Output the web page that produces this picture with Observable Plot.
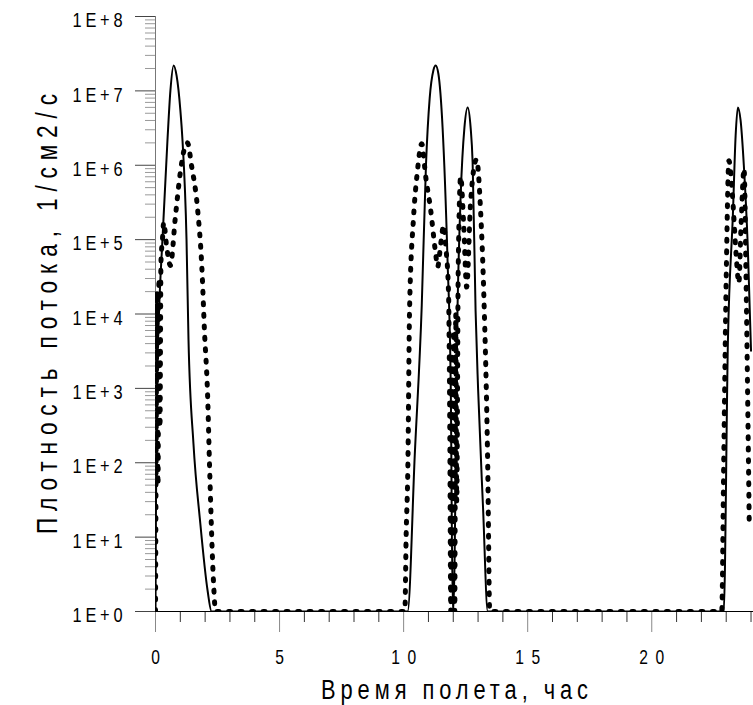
<!DOCTYPE html>
<html>
<head>
<meta charset="utf-8">
<script src="https://cdn.jsdelivr.net/npm/d3@7"></script>
<script src="https://cdn.jsdelivr.net/npm/@observablehq/plot@0.6"></script>
<style>
  html, body { margin: 0; padding: 0; background: #fff; }
  svg text { font-family: "Liberation Sans", Arial, sans-serif; }
</style>
</head>
<body>
<div id="chart"></div>
<script>
// Solid curve (time in hours, flux 1/cm2/s)
const solidTime = [0, 0.02, 0.06, 0.14, 0.28, 0.48, 0.6, 0.73, 0.85, 1.0, 1.09, 1.25, 1.33, 1.53, 1.8, 2.1, 2.26,
  10.16, 10.45, 10.73, 10.9, 11.05, 11.2, 11.29, 11.4, 11.57, 11.77, 11.9, 11.98,
  12.0, 12.18, 12.3, 12.45, 12.58, 12.7, 12.78, 12.9, 13.0, 13.2, 13.39,
  22.9, 23.07, 23.27, 23.38, 23.47, 23.58, 23.71, 23.87, 24.0];
const solidFlux = [1, 3e1, 1e3, 1e4, 1e5, 2.1e6, 1e7, 2.2e7, 1.6e7, 5.6e6, 2.1e6, 1e5, 4.5e3, 1.8e2, 1.6e1, 1.9, 1,
  1, 1.3e2, 1.3e4, 1e6, 8e6, 1.9e7, 2.2e7, 1.7e7, 3.2e6, 5.2e4, 1e3, 1,
  1, 1.6e4, 4e5, 3.2e6, 6e6, 3.2e6, 1.1e6, 1.1e4, 1e3, 2.5e1, 1,
  1, 4.5e3, 2.2e5, 2.5e6, 6e6, 4e6, 1e6, 8e4, 3.2e3];

// Dotted curve
const dottedTime = [0, 0.03, 0.06, 0.1, 0.14, 0.18, 0.22, 0.28, 0.33, 0.45, 0.6, 0.8, 1.0, 1.15, 1.29, 1.45, 1.69, 1.88, 1.97, 2.1, 2.18, 2.34, 2.42,
  10.05, 10.1, 10.17, 10.24, 10.4, 10.55, 10.73, 10.89, 11.09, 11.29, 11.37, 11.5, 11.61, 11.7, 11.81, 11.86, 11.9, 11.94, 11.98, 12.02, 12.06, 12.1, 12.14, 12.2,
  12.3, 12.42, 12.54, 12.7, 12.94, 13.1, 13.23, 13.39, 13.47,
  22.82, 22.9, 23.0, 23.11, 23.25, 23.4, 23.51, 23.6, 23.72, 23.8, 23.88, 23.93];
const dottedFlux = [1, 3e2, 2e4, 5e1, 3e4, 3e2, 5e4, 1e5, 1.7e5, 8e4, 4.5e4, 2e5, 8e5, 1.6e6, 2e6, 1e6, 2.7e5, 3.5e4, 6.3e3, 8e2, 8.7e1, 2.4, 1,
  1, 1e1, 8.7e1, 1.2e4, 2e5, 8e5, 1.95e6, 7e5, 2.5e5, 6.5e4, 4.3e4, 9e4, 1.55e5, 8e4, 1.9e4, 3e2, 1, 3e3, 1e1, 6e3, 1, 1e4, 3e1, 4e4,
  7e5, 1.6e5, 2.3e4, 3.2e5, 1.2e6, 2.5e5, 1.9e4, 8.7e1, 1,
  1, 1e2, 3e4, 1.15e6, 4e5, 6.3e4, 2.6e4, 1.6e5, 9e5, 3e4, 3e2, 1.35e1];

const xMajorTicks = [0, 5, 10, 15, 20];
const xMinorTicks = [1, 2, 3, 4, 6, 7, 8, 9, 11, 12, 13, 14, 16, 17, 18, 19, 21, 22, 23, 24];
const yMajorTicks = [1, 1e1, 1e2, 1e3, 1e4, 1e5, 1e6, 1e7, 1e8];
const yTickLabels = ["1E+0", "1E+1", "1E+2", "1E+3", "1E+4", "1E+5", "1E+6", "1E+7", "1E+8"];
const yMinorTicks = [];
for (let e = 0; e < 8; e++) for (let m = 2; m <= 9; m++) yMinorTicks.push(m * Math.pow(10, e));

const xTitle = "Время полета, час";
const yTitle = "Плотность потока, 1/см2/с";

const solid = solidTime.map((t, i) => ({t, v: solidFlux[i]}));
const dotted = dottedTime.map((t, i) => ({t, v: dottedFlux[i]}));

const W = 753, H = 705, ML = 155, MR = 0, MT = 16, MB = 94;

const chart = Plot.plot({
  width: W,
  height: H,
  marginLeft: ML,
  marginRight: MR,
  marginTop: MT,
  marginBottom: MB,
  x: {domain: [0, 24.1]},
  y: {type: "log", domain: [1, 1e8]},
  marks: [
    Plot.ruleX([0], {y1: 1, y2: 1e8, stroke: "#777", strokeWidth: 1}),
    Plot.axisY({ticks: yMinorTicks, tickSize: 10, stroke: "#999", fill: "none", label: null}),
    Plot.axisY({ticks: yMajorTicks, tickSize: 20, tickPadding: 13, stroke: "#444", fill: "#000", fontSize: 21,
      tickFormat: d => yTickLabels[yMajorTicks.indexOf(d)], label: null}),
    Plot.axisX({ticks: xMinorTicks, tickSize: 11, stroke: "#333", fill: "none", label: null}),
    Plot.axisX({ticks: xMajorTicks, tickSize: 21, tickPadding: 17, stroke: "#888", fill: "#000", fontSize: 20,
      tickFormat: d => String(d), label: null}),
    Plot.ruleY([1], {stroke: "#000", strokeWidth: 1.2}),
    Plot.line(solid, {x: "t", y: "v", stroke: "#000", strokeWidth: 2, curve: "monotone-x", clip: true}),
    Plot.line(dotted, {x: "t", y: "v", stroke: "#000", strokeWidth: 5, strokeDasharray: "2,9.5",
      strokeLinecap: "round", curve: "monotone-x", clip: true}),
    Plot.text([xTitle], {frameAnchor: "bottom", dy: 79, fontSize: 28, lineAnchor: "middle", fill: "#000"}),
    Plot.text([yTitle], {frameAnchor: "left", fontSize: 29, fill: "#000"})
  ]
});
document.getElementById("chart").appendChild(chart);

// Narrow, letter-spaced look of the original plotter font
const SX = 0.78;
function condense(el, target, extra) {
  const t = el.getAttribute("transform") || "";
  el.setAttribute("transform", t + (extra || "") + ` scale(${SX},1)`);
  if (target) {
    el.setAttribute("textLength", target / SX);
    el.setAttribute("lengthAdjust", "spacing");
  }
}
const sel = d3.select(chart);
sel.selectAll('g[aria-label="y-axis tick label"] text').each(function () {
  condense(this, 12.5 * this.textContent.length, " translate(0,4)");
});
sel.selectAll('g[aria-label="x-axis tick label"] text').each(function () {
  const n = this.textContent.length;
  condense(this, n > 1 ? 12.5 * n : 0);
});
sel.selectAll("text").filter(function () { return this.textContent === xTitle; }).each(function () {
  condense(this, 267);
});
sel.selectAll("text").filter(function () { return this.textContent === yTitle; }).each(function () {
  this.setAttribute("transform", `translate(37,${(MT + H - MB) / 2}) rotate(-90) scale(${SX},1)`);
  this.setAttribute("text-anchor", "middle");
  this.setAttribute("dy", "0.35em");
  this.setAttribute("textLength", 440 / SX);
  this.setAttribute("lengthAdjust", "spacing");
});
</script>
</body>
</html>
